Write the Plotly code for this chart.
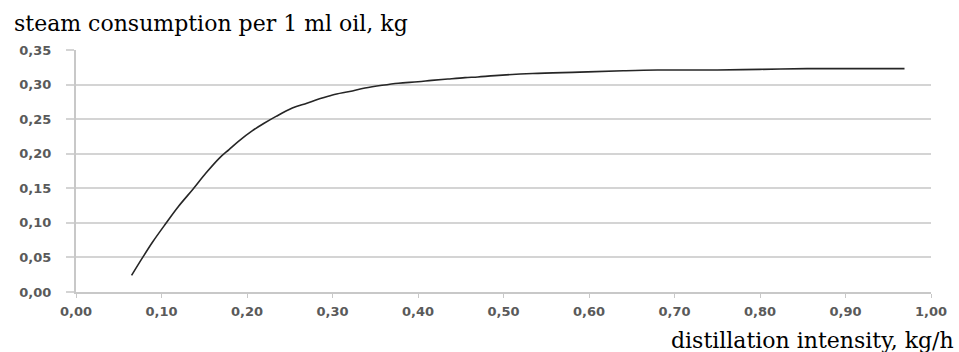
import plotly.graph_objects as go

# Data
intensity = [0.065, 0.078, 0.090, 0.105, 0.120, 0.137, 0.152, 0.168, 0.179, 0.190,
             0.206, 0.220, 0.234, 0.253, 0.270, 0.284, 0.300, 0.320, 0.338, 0.358,
             0.377, 0.400, 0.416, 0.435, 0.455, 0.470, 0.490, 0.534, 0.589, 0.640,
             0.680, 0.750, 0.800, 0.855, 0.900, 0.969]
steam = [0.024, 0.050, 0.073, 0.099, 0.124, 0.149, 0.172, 0.194, 0.206, 0.218,
         0.233, 0.244, 0.254, 0.266, 0.273, 0.279, 0.285, 0.290, 0.295, 0.299,
         0.302, 0.304, 0.306, 0.308, 0.310, 0.311, 0.313, 0.316, 0.318, 0.320,
         0.321, 0.321, 0.322, 0.323, 0.323, 0.323]

x_ticks = [0.0, 0.1, 0.2, 0.3, 0.4, 0.5, 0.6, 0.7, 0.8, 0.9, 1.0]
x_tick_labels = ["0,00", "0,10", "0,20", "0,30", "0,40", "0,50", "0,60", "0,70", "0,80", "0,90", "1,00"]
y_ticks = [0.0, 0.05, 0.10, 0.15, 0.20, 0.25, 0.30, 0.35]
y_tick_labels = ["0,00", "0,05", "0,10", "0,15", "0,20", "0,25", "0,30", "0,35"]

y_title = "steam consumption per 1 ml oil, kg"
x_title = "distillation intensity, kg/h"

tick_font = dict(family="DejaVu Sans", size=13, color="#5a5a5a", weight="bold")
title_font = dict(family="DejaVu Serif", size=22, color="#000000")

fig = go.Figure()
fig.add_trace(go.Scatter(x=intensity, y=steam, mode="lines",
                         line=dict(color="#262626", width=1.6, shape="spline", smoothing=1.0),
                         showlegend=False, hoverinfo="skip"))

fig.update_layout(
    width=959, height=352,
    margin=dict(l=76, r=24, t=50, b=60),
    paper_bgcolor="white", plot_bgcolor="white",
    xaxis=dict(range=[0, 1.0], tickvals=x_ticks, ticktext=x_tick_labels,
               showgrid=False, zeroline=False, showline=True, linecolor="#c8c8c8", linewidth=2,
               ticks="outside", ticklen=4, tickcolor="#c8c8c8", tickwidth=1,
               tickfont=tick_font, ticklabelstandoff=2),
    yaxis=dict(range=[0, 0.35], tickvals=y_ticks, ticktext=y_tick_labels,
               showgrid=True, gridcolor="#d4d4d4", gridwidth=2,
               zeroline=False, showline=True, linecolor="#c8c8c8", linewidth=2,
               ticks="outside", ticklen=8, tickcolor="#d4d4d4", tickwidth=2,
               tickfont=tick_font, ticklabelstandoff=12),
    annotations=[
        dict(text=y_title, xref="paper", yref="paper", x=-0.0745, y=1.17,
             xanchor="left", yanchor="top", showarrow=False, font=title_font),
        dict(text=x_title, xref="paper", yref="paper", x=1.0, y=-0.26,
             xanchor="right", yanchor="bottom", xshift=25, showarrow=False, font=title_font),
    ],
)

fig.write_html("out.html", config={"displayModeBar": False},
               post_script="document.body.style.margin='0';document.body.style.padding='0';")
